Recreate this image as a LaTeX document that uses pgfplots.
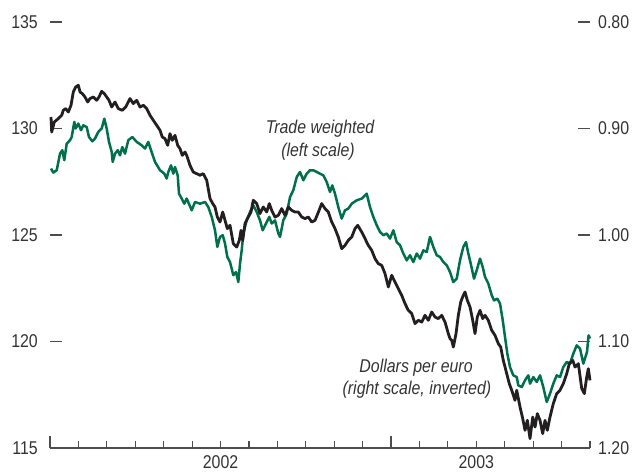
\documentclass[border=0pt]{standalone}
\usepackage{pgfplots}
\pgfplotsset{compat=1.18}
\usepackage{fontspec}
\setmainfont{Liberation Sans}[FakeStretch=0.86]
\definecolor{tegreen}{HTML}{00704A}
\definecolor{teblack}{HTML}{231F20}
\definecolor{txt}{HTML}{333333}
\definecolor{tk}{HTML}{4D4D4D}
\newcommand\cf{\fontsize{18.5}{22}\selectfont}
\begin{document}
\begin{tikzpicture}
\path[use as bounding box] (-50pt,-27pt) rectangle (583pt,448pt);
\begin{axis}[
  at={(0pt,0pt)}, anchor=south west,
  width=540pt, height=426pt, scale only axis,
  xmin=0, xmax=19, ymin=115, ymax=135,
  axis x line*=bottom, axis y line*=left,
  y axis line style={draw=none},
  x axis line style={tk, line width=1.2pt, -},
  tick align=inside,
  xtick={0,12}, xticklabels={},
  minor xtick={0,...,19},
  extra x ticks={6,15}, extra x tick labels={2002,2003},
  extra x tick style={major tick length=0pt},
  ytick={115,120,...,135},
  major tick length=12pt, minor tick length=7pt,
  tick style={tk, line width=1.2pt},
  tick label style={font=\cf, text=txt},
  yticklabel style={inner sep=0pt, xshift=-12pt},
  xticklabel style={inner sep=0pt, yshift=-7pt},
  /pgf/number format/assume math mode=true,
  clip=false,
]
\addplot[tegreen, line width=2.5pt, line join=round] coordinates {
(0.035,128.12) (0.116,127.93) (0.236,128.04) (0.352,128.82) (0.433,128.98) (0.503,128.51)
(0.588,129.29) (0.704,129.45) (0.764,129.60) (0.855,130.31) (0.904,130.00) (0.996,130.23)
(1.091,129.92) (1.172,130.15) (1.291,130.07) (1.372,129.60) (1.488,129.40) (1.583,129.53)
(1.700,129.84) (1.819,130.00) (1.911,130.46) (1.995,130.00) (2.076,129.37) (2.171,128.90)
(2.206,128.43) (2.287,128.82) (2.382,128.98) (2.463,128.74) (2.544,129.13) (2.639,128.82)
(2.755,129.45) (2.896,129.60) (3.051,129.37) (3.227,129.21) (3.343,129.06) (3.459,129.37)
(3.554,128.98) (3.695,128.43) (3.871,128.04) (4.022,127.88) (4.106,127.65) (4.163,127.96)
(4.258,128.27) (4.338,127.88) (4.398,128.19) (4.493,127.80) (4.539,126.94) (4.634,126.71)
(4.726,126.47) (4.810,126.71) (4.986,126.16) (5.102,126.55) (5.278,126.47) (5.454,126.55)
(5.570,126.31) (5.690,125.85) (5.806,125.22) (5.887,124.44) (5.982,124.91) (6.077,124.99)
(6.158,124.60) (6.239,123.97) (6.334,123.73) (6.450,123.11) (6.545,123.26) (6.626,122.79)
(6.686,123.66) (6.745,124.28) (6.802,125.07) (6.921,125.69) (7.037,126.08) (7.153,126.39)
(7.273,126.08) (7.389,125.69) (7.484,125.22) (7.600,125.54) (7.716,125.85) (7.801,125.54)
(7.917,125.69) (8.033,125.07) (8.093,124.91) (8.209,125.69) (8.329,126.00) (8.445,126.78)
(8.561,127.10) (8.681,127.72) (8.797,127.96) (8.913,127.57) (9.032,127.88) (9.148,128.04)
(9.265,128.04) (9.384,127.96) (9.500,127.88) (9.617,127.80) (9.736,127.49) (9.852,127.02)
(9.933,127.33) (10.028,126.94) (10.144,126.31) (10.264,125.77) (10.380,126.16) (10.496,126.24)
(10.616,126.47) (10.792,126.63) (10.968,126.71) (11.144,126.94) (11.260,126.31) (11.376,125.85)
(11.496,125.46) (11.612,125.14) (11.728,124.99) (11.848,125.07) (11.963,124.83) (12.080,125.22)
(12.199,124.67) (12.315,124.52) (12.431,124.13) (12.551,123.81) (12.667,124.05) (12.783,123.73)
(12.903,124.13) (13.019,123.89) (13.135,124.28) (13.255,124.20) (13.371,124.91) (13.487,124.44)
(13.607,124.05) (13.723,123.97) (13.839,123.73) (13.959,123.58) (14.075,123.26) (14.191,122.79)
(14.310,122.95) (14.426,123.81) (14.543,124.44) (14.638,124.67) (14.719,124.13) (14.803,123.66)
(14.919,122.95) (15.014,123.34) (15.130,123.89) (15.225,123.50) (15.306,123.03) (15.422,122.72)
(15.542,122.17) (15.623,121.93) (15.739,122.01) (15.834,121.78) (15.929,121.00) (16.010,120.21)
(16.091,119.43) (16.186,118.80) (16.302,118.41) (16.422,118.33) (16.478,117.94) (16.598,117.86)
(16.714,118.18) (16.830,118.41) (16.890,118.02) (17.006,118.33) (17.125,118.10) (17.241,118.41)
(17.357,117.86) (17.477,117.16) (17.593,117.55) (17.709,118.02) (17.829,118.41) (17.945,118.33)
(18.061,118.80) (18.181,119.04) (18.297,118.96) (18.413,119.43) (18.533,119.82) (18.649,119.67)
(18.765,118.96) (18.895,119.51) (18.951,120.29) (19.000,120.14)
};
\node[font=\cf\itshape, text=txt, anchor=base, inner sep=0pt] at (axis cs:9.50,129.77) {Trade weighted};
\node[font=\cf\itshape, text=txt, anchor=base, inner sep=0pt] at (axis cs:9.43,128.70) {(left scale)};
\node[font=\cf\itshape, text=txt, anchor=base, inner sep=0pt] at (axis cs:12.88,118.55) {Dollars per euro};
\node[font=\cf\itshape, text=txt, anchor=base, inner sep=0pt] at (axis cs:12.91,117.52) {(right scale, inverted)};
\end{axis}
\begin{axis}[
  at={(0pt,0pt)}, anchor=south west,
  width=540pt, height=426pt, scale only axis,
  xmin=0, xmax=19, ymin=0.80, ymax=1.20, y dir=reverse,
  axis x line=none, axis y line*=right,
  y axis line style={draw=none},
  tick align=inside, major tick length=12pt,
  ytick={0.8,0.9,1.0,1.1,1.2},
  tick style={tk, line width=1.2pt},
  yticklabel style={/pgf/number format/fixed, /pgf/number format/fixed zerofill, /pgf/number format/precision=2, inner sep=0pt, xshift=8pt, font=\cf, text=txt},
  /pgf/number format/assume math mode=true,
  clip=false,
]
\addplot[teblack, line width=2.8pt, line join=round] coordinates {
(0.035,0.8892) (0.060,0.9033) (0.151,0.8939) (0.292,0.8907) (0.412,0.8876) (0.468,0.8829)
(0.552,0.8813) (0.644,0.8845) (0.739,0.8782) (0.820,0.8657) (0.904,0.8610) (0.996,0.8594)
(1.056,0.8657) (1.137,0.8672) (1.232,0.8704) (1.327,0.8751) (1.407,0.8719) (1.524,0.8704)
(1.643,0.8735) (1.724,0.8704) (1.819,0.8651) (1.911,0.8672) (1.995,0.8704) (2.076,0.8735)
(2.171,0.8798) (2.287,0.8751) (2.403,0.8813) (2.544,0.8829) (2.664,0.8798) (2.815,0.8719)
(2.931,0.8766) (3.051,0.8735) (3.167,0.8798) (3.283,0.8782) (3.403,0.8813) (3.519,0.8876)
(3.635,0.8923) (3.755,0.8970) (3.871,0.9017) (3.951,0.9080) (4.046,0.9095) (4.141,0.9158)
(4.222,0.9048) (4.303,0.9111) (4.398,0.9064) (4.493,0.9158) (4.574,0.9189) (4.655,0.9252)
(4.750,0.9221) (4.810,0.9252) (4.926,0.9346) (5.042,0.9409) (5.162,0.9424) (5.278,0.9439)
(5.394,0.9424) (5.514,0.9486) (5.630,0.9658) (5.725,0.9705) (5.806,0.9737) (5.887,0.9831)
(5.982,0.9878) (6.077,0.9784) (6.158,0.9862) (6.239,0.9940) (6.334,0.9909) (6.450,1.0081)
(6.570,1.0113) (6.661,1.0050) (6.721,0.9956) (6.781,1.0050) (6.861,0.9893) (6.977,0.9831)
(7.072,0.9784) (7.153,0.9674) (7.273,0.9705) (7.389,0.9799) (7.505,0.9737) (7.625,0.9784)
(7.716,0.9705) (7.801,0.9768) (7.917,0.9831) (8.033,0.9815) (8.153,0.9752) (8.269,0.9815)
(8.385,0.9737) (8.505,0.9768) (8.621,0.9784) (8.737,0.9784) (8.857,0.9831) (8.973,0.9846)
(9.089,0.9831) (9.209,0.9878) (9.325,0.9862) (9.441,0.9787) (9.560,0.9705) (9.676,0.9752)
(9.792,0.9784) (9.912,0.9878) (10.028,0.9940) (10.144,1.0019) (10.264,1.0128) (10.380,1.0097)
(10.496,1.0050) (10.616,1.0019) (10.732,0.9940) (10.827,0.9909) (10.968,0.9972) (11.084,1.0034)
(11.200,1.0097) (11.320,1.0144) (11.436,1.0222) (11.552,1.0269) (11.672,1.0285) (11.788,1.0363)
(11.904,1.0488) (12.023,1.0378) (12.139,1.0441) (12.255,1.0503) (12.375,1.0566) (12.491,1.0644)
(12.607,1.0707) (12.727,1.0738) (12.843,1.0832) (12.959,1.0801) (13.079,1.0817) (13.195,1.0754)
(13.311,1.0801) (13.431,1.0723) (13.547,1.0770) (13.663,1.0785) (13.783,1.0754) (13.899,1.0817)
(14.015,1.0926) (14.075,1.0973) (14.135,1.0989) (14.191,1.1052) (14.286,1.0926) (14.367,1.0754)
(14.452,1.0629) (14.543,1.0566) (14.603,1.0535) (14.684,1.0613) (14.779,1.0676) (14.873,1.0801)
(14.954,1.0926) (15.035,1.0770) (15.130,1.0707) (15.225,1.0785) (15.306,1.0754) (15.422,1.0801)
(15.542,1.0895) (15.658,1.0942) (15.774,1.1020) (15.858,1.1052) (15.950,1.1177) (16.070,1.1302)
(16.161,1.1396) (16.246,1.1458) (16.362,1.1552) (16.422,1.1458) (16.538,1.1615) (16.633,1.1724)
(16.714,1.1834) (16.795,1.1740) (16.890,1.1912) (16.985,1.1709) (17.066,1.1803) (17.147,1.1677)
(17.241,1.1740) (17.336,1.1865) (17.417,1.1740) (17.498,1.1834) (17.593,1.1709) (17.709,1.1583)
(17.829,1.1489) (17.945,1.1458) (18.061,1.1396) (18.181,1.1302) (18.273,1.1208) (18.393,1.1177)
(18.474,1.1240) (18.590,1.1208) (18.709,1.1442) (18.801,1.1489) (18.885,1.1333) (18.941,1.1255)
(19.000,1.1365)
};
\end{axis}
\end{tikzpicture}
\end{document}
